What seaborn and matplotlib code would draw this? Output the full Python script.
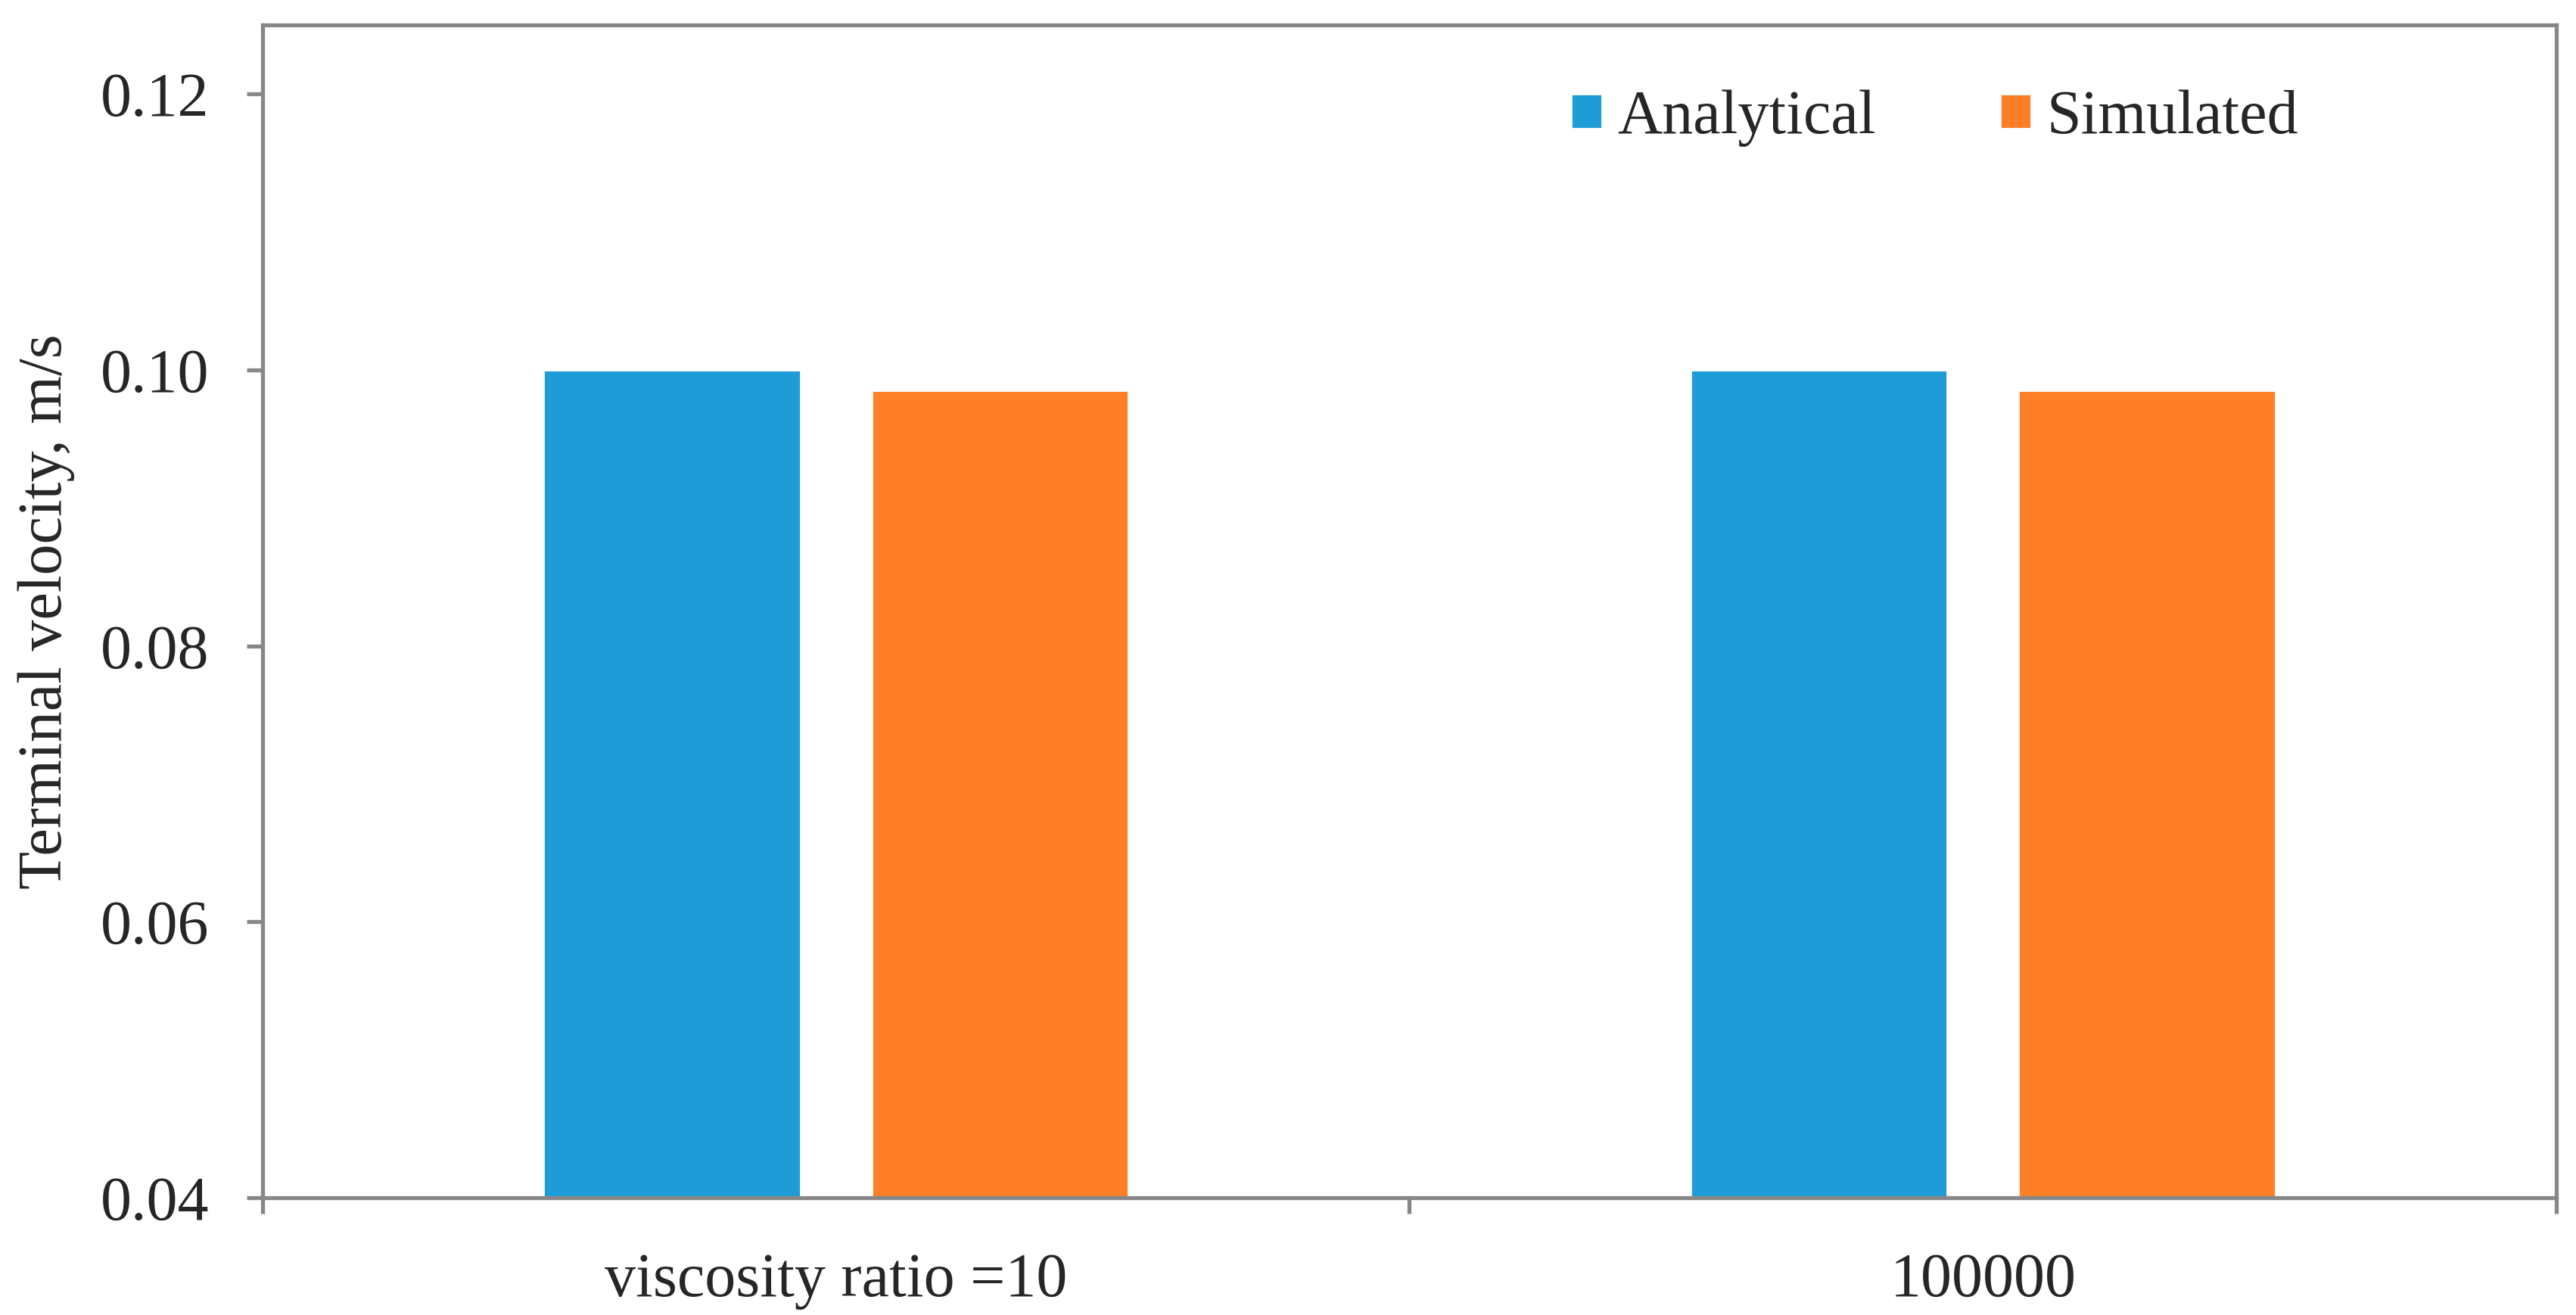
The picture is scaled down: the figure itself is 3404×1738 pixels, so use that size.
import matplotlib
matplotlib.use("Agg")
import matplotlib.pyplot as plt
import seaborn as sns
import pandas as pd
from matplotlib.ticker import FixedLocator, FormatStrFormatter

categories = ["viscosity ratio =10", "100000"]
analytical = [0.1000, 0.1000]
simulated = [0.0985, 0.0985]
series_names = ["Analytical", "Simulated"]
yticks = [0.04, 0.06, 0.08, 0.10, 0.12]

COLORS = {"Analytical": "#1e9cd8", "Simulated": "#ff7f27"}
SPINE = "#878787"

df = pd.DataFrame({
    "case": categories * 2,
    "series": [series_names[0]] * 2 + [series_names[1]] * 2,
    "value": analytical + simulated,
})

sns.set_theme(style="white")
plt.rcParams["font.family"] = ["Liberation Serif", "DejaVu Serif"]

fig = plt.figure(figsize=(17.02, 8.69), dpi=200)
ax = fig.add_axes([0.1019, 0.0892, 0.8905, 0.8918])

sns.barplot(data=df, x="case", y="value", hue="series", palette=COLORS,
            width=0.572, gap=0.217, saturation=1, ax=ax, legend=True)

ax.set_xlim(-0.5, 1.5)
ax.set_ylim(0.04, 0.125)
ax.yaxis.set_major_locator(FixedLocator(yticks))
ax.yaxis.set_major_formatter(FormatStrFormatter("%.2f"))
ax.set_xlabel("")
ax.set_ylabel("Terminal velocity, m/s", fontsize=29.5, labelpad=12)

# box around the plot, grey like the original
for s in ax.spines.values():
    s.set_visible(True)
    s.set_color(SPINE)
    s.set_linewidth(1.9)

ax.tick_params(axis="y", which="major", direction="out", length=7.5, width=1.9,
               color=SPINE, labelsize=29.5, pad=18, left=True)
ax.tick_params(axis="x", which="major", length=0, labelsize=29.5, pad=26)
# category separators as minor ticks
ax.xaxis.set_minor_locator(FixedLocator([-0.5, 0.5, 1.5]))
ax.tick_params(axis="x", which="minor", direction="out", length=7.5, width=1.9,
               color=SPINE, bottom=True)

handles, labels = ax.get_legend_handles_labels()
ax.legend(handles, labels, ncol=2, frameon=False, fontsize=29.5,
          loc="center", bbox_to_anchor=(0.751, 0.91), bbox_transform=fig.transFigure,
          handlelength=0.5, handleheight=0.5, handletextpad=0.25, columnspacing=2.0)

fig.savefig("out.png", dpi=200)
